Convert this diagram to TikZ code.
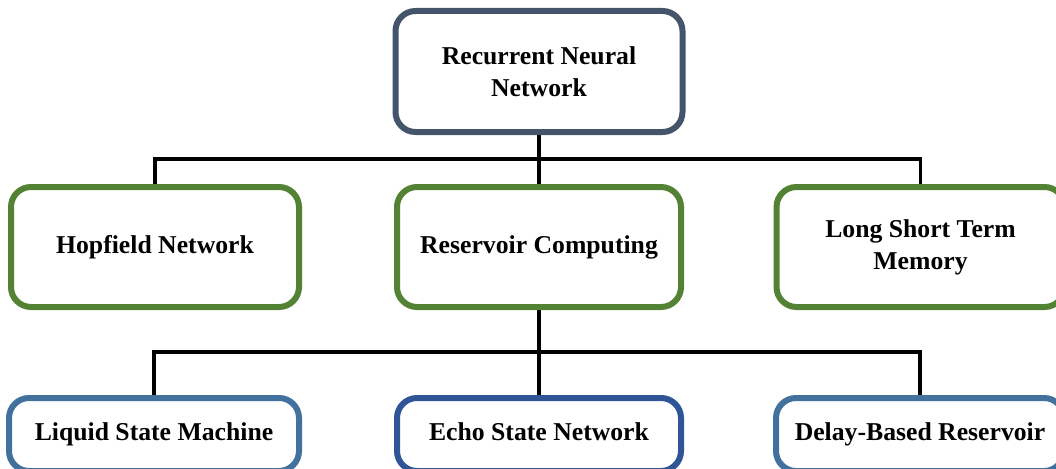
\documentclass[tikz,border=0pt]{standalone}
\usepackage{fontspec}
\setmainfont{Liberation Serif}
\definecolor{slate}{HTML}{44546A}
\definecolor{leaf}{HTML}{548235}
\definecolor{steel}{HTML}{41719C}
\definecolor{navy}{HTML}{2F5597}
\begin{document}
\begin{tikzpicture}[x=1pt,y=-1pt,
  box/.style={draw, line width=6pt, rounded corners=20pt, fill=white,
    align=center, inner sep=0pt,
    font=\fontsize{25.7}{32}\selectfont\bfseries},
  topbox/.style={box, draw=slate, minimum width=287pt, minimum height=121pt},
  midbox/.style={box, draw=leaf, minimum width=288pt, minimum height=120pt},
  lowbox/.style={box, minimum width=288pt, minimum height=73pt,
    text height=18pt, text depth=6pt},
  link/.style={line width=3.5pt, black}]
\clip (0,0) rectangle (1056,468);
\useasboundingbox (0,0) rectangle (1056,468);

% heights of the two horizontal buses
\coordinate (busA) at (0,159);
\coordinate (busB) at (0,352);

% top level
\node[topbox] (rnn) at (539,71.5) {Recurrent Neural\\Network};
% second level
\node[midbox] (hop) at (155,247) {Hopfield Network};
\node[midbox, minimum width=284pt] (res) at (539,247) {Reservoir Computing};
\node[midbox] (lstm) at (920.5,247) {Long Short Term\\Memory};
% third level
\node[lowbox, draw=steel, minimum width=290pt] (lsm) at (154,434.5) {Liquid State Machine};
\node[lowbox, draw=navy, minimum width=284pt] (esn) at (539,434.5) {Echo State Network};
\node[lowbox, draw=steel] (dbr) at (920,434.5) {Delay-Based Reservoir};

% tree connectors
\draw[link] (rnn.south) -- (res.north);
\draw[link] (hop.north) |- (lstm.north |- busA) -- (lstm.north);
\draw[link] (res.south) -- (esn.north);
\draw[link] (lsm.north) |- (dbr.north |- busB) -- (dbr.north);
\end{tikzpicture}
\end{document}
